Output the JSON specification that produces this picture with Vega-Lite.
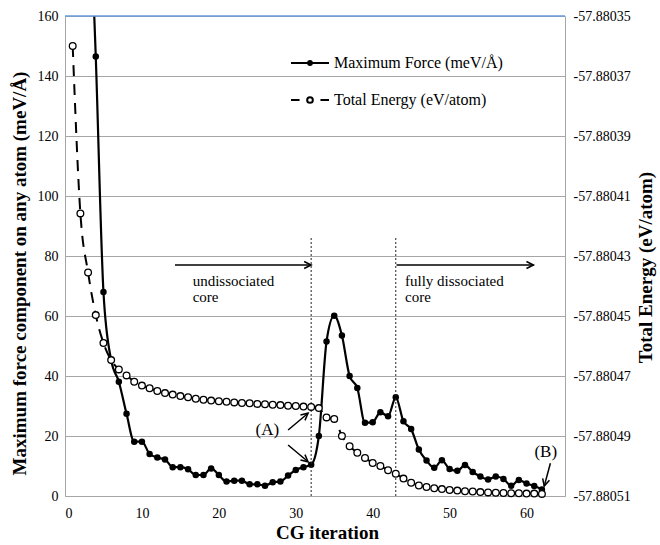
{
  "$schema": "https://vega.github.io/schema/vega-lite/v6.json",
  "width": 500,
  "height": 480,
  "autosize": "none",
  "padding": {"left": 65, "top": 16, "right": 95, "bottom": 49},
  "background": "white",
  "config": {
    "view": {"stroke": null},
    "font": "Liberation Serif",
    "axis": {
      "labelFont": "Liberation Serif", "labelFontSize": 14, "labelColor": "black",
      "titleFont": "Liberation Serif", "titleFontSize": 19, "titleFontWeight": "bold", "titleColor": "black",
      "domainColor": "#a6a6a6", "domainWidth": 1, "ticks": false, "tickSize": 0
    }
  },
  "datasets": {
    "force": [
      {"iter": 3, "maxForce": 215}, {"iter": 4, "maxForce": 146.5}, {"iter": 5, "maxForce": 68}, {"iter": 6, "maxForce": 45.3},
      {"iter": 7, "maxForce": 38.1}, {"iter": 8, "maxForce": 27.4}, {"iter": 9, "maxForce": 18.1}, {"iter": 10, "maxForce": 18.1},
      {"iter": 11, "maxForce": 14}, {"iter": 12, "maxForce": 12.8}, {"iter": 13, "maxForce": 12.2}, {"iter": 14, "maxForce": 9.6},
      {"iter": 15, "maxForce": 9.6}, {"iter": 16, "maxForce": 8.9}, {"iter": 17, "maxForce": 7}, {"iter": 18, "maxForce": 7},
      {"iter": 19, "maxForce": 9.2}, {"iter": 20, "maxForce": 7}, {"iter": 21, "maxForce": 4.8}, {"iter": 22, "maxForce": 5.1},
      {"iter": 23, "maxForce": 5.1}, {"iter": 24, "maxForce": 3.9}, {"iter": 25, "maxForce": 3.9}, {"iter": 26, "maxForce": 3.4},
      {"iter": 27, "maxForce": 4.6}, {"iter": 28, "maxForce": 4.8}, {"iter": 29, "maxForce": 6.8}, {"iter": 30, "maxForce": 8.7},
      {"iter": 31, "maxForce": 9.6}, {"iter": 32, "maxForce": 10.4}, {"iter": 33, "maxForce": 20}, {"iter": 34, "maxForce": 51.5},
      {"iter": 35, "maxForce": 60.1}, {"iter": 36, "maxForce": 53.5}, {"iter": 37, "maxForce": 40}, {"iter": 38, "maxForce": 36},
      {"iter": 39, "maxForce": 24.4}, {"iter": 40, "maxForce": 24.6}, {"iter": 41, "maxForce": 27.9}, {"iter": 42, "maxForce": 26.6},
      {"iter": 43, "maxForce": 32.9}, {"iter": 44, "maxForce": 24.9}, {"iter": 45, "maxForce": 22.3}, {"iter": 46, "maxForce": 15.5},
      {"iter": 47, "maxForce": 11.8}, {"iter": 48, "maxForce": 9.4}, {"iter": 49, "maxForce": 11.9}, {"iter": 50, "maxForce": 9},
      {"iter": 51, "maxForce": 8.4}, {"iter": 52, "maxForce": 10.3}, {"iter": 53, "maxForce": 8}, {"iter": 54, "maxForce": 6.5},
      {"iter": 55, "maxForce": 5.5}, {"iter": 56, "maxForce": 6.5}, {"iter": 57, "maxForce": 5.7}, {"iter": 58, "maxForce": 3.4},
      {"iter": 59, "maxForce": 5.3}, {"iter": 60, "maxForce": 4.2}, {"iter": 61, "maxForce": 3.3}, {"iter": 62, "maxForce": 2.2}
    ],
    "energy": [
      {"iter": 1, "totalEnergy": -57.88036}, {"iter": 2, "totalEnergy": -57.8804158}, {"iter": 3, "totalEnergy": -57.8804355},
      {"iter": 4, "totalEnergy": -57.8804497}, {"iter": 5, "totalEnergy": -57.880459}, {"iter": 6, "totalEnergy": -57.8804647},
      {"iter": 7, "totalEnergy": -57.8804678}, {"iter": 8, "totalEnergy": -57.8804698}, {"iter": 9, "totalEnergy": -57.8804719},
      {"iter": 10, "totalEnergy": -57.8804732}, {"iter": 11, "totalEnergy": -57.8804741}, {"iter": 12, "totalEnergy": -57.880475},
      {"iter": 13, "totalEnergy": -57.8804757}, {"iter": 14, "totalEnergy": -57.8804762}, {"iter": 15, "totalEnergy": -57.8804767},
      {"iter": 16, "totalEnergy": -57.8804771}, {"iter": 17, "totalEnergy": -57.8804776}, {"iter": 18, "totalEnergy": -57.8804779},
      {"iter": 19, "totalEnergy": -57.8804782}, {"iter": 20, "totalEnergy": -57.8804784}, {"iter": 21, "totalEnergy": -57.8804786},
      {"iter": 22, "totalEnergy": -57.8804788}, {"iter": 23, "totalEnergy": -57.880479}, {"iter": 24, "totalEnergy": -57.8804791},
      {"iter": 25, "totalEnergy": -57.8804793}, {"iter": 26, "totalEnergy": -57.8804794}, {"iter": 27, "totalEnergy": -57.8804796},
      {"iter": 28, "totalEnergy": -57.8804797}, {"iter": 29, "totalEnergy": -57.8804799}, {"iter": 30, "totalEnergy": -57.88048},
      {"iter": 31, "totalEnergy": -57.8804802}, {"iter": 32, "totalEnergy": -57.8804803}, {"iter": 33, "totalEnergy": -57.8804807},
      {"iter": 34, "totalEnergy": -57.8804838}, {"iter": 35, "totalEnergy": -57.8804843}, {"iter": 36, "totalEnergy": -57.88049},
      {"iter": 37, "totalEnergy": -57.8804934}, {"iter": 38, "totalEnergy": -57.8804956}, {"iter": 39, "totalEnergy": -57.8804973},
      {"iter": 40, "totalEnergy": -57.880499}, {"iter": 41, "totalEnergy": -57.8805}, {"iter": 42, "totalEnergy": -57.8805014},
      {"iter": 43, "totalEnergy": -57.8805026}, {"iter": 44, "totalEnergy": -57.8805042}, {"iter": 45, "totalEnergy": -57.8805056},
      {"iter": 46, "totalEnergy": -57.8805065}, {"iter": 47, "totalEnergy": -57.880507}, {"iter": 48, "totalEnergy": -57.8805074},
      {"iter": 49, "totalEnergy": -57.8805077}, {"iter": 50, "totalEnergy": -57.880508}, {"iter": 51, "totalEnergy": -57.8805082},
      {"iter": 52, "totalEnergy": -57.8805084}, {"iter": 53, "totalEnergy": -57.8805085}, {"iter": 54, "totalEnergy": -57.8805087},
      {"iter": 55, "totalEnergy": -57.8805088}, {"iter": 56, "totalEnergy": -57.8805089}, {"iter": 57, "totalEnergy": -57.880509},
      {"iter": 58, "totalEnergy": -57.8805091}, {"iter": 59, "totalEnergy": -57.8805091}, {"iter": 60, "totalEnergy": -57.8805092},
      {"iter": 61, "totalEnergy": -57.8805092}, {"iter": 62, "totalEnergy": -57.8805093}
    ],
    "vlines": [{"iter": 32, "lo": 0, "hi": 86}, {"iter": 43, "lo": 0, "hi": 86}],
    "hArrows": [{"x": 14.3, "x2": 32, "y": 77}, {"x": 43.1, "x2": 60.9, "y": 77}],
    "diagArrows": [
      {"name": "A1", "x": 29, "y": 22, "x2": 31.6, "y2": 27.6},
      {"name": "A2", "x": 29, "y": 17, "x2": 31.6, "y2": 11.4},
      {"name": "B", "x": 63.1, "y": 10.9, "x2": 62.3, "y2": 3.3}
    ],
    "notes": [
      {"x": 16.6, "y": 70, "text": "undissociated\ncore"},
      {"x": 44.2, "y": 70, "text": "fully dissociated\ncore"}
    ],
    "tags": [
      {"x": 26.3, "y": 22, "text": "(A)"},
      {"x": 62.5, "y": 14.8, "text": "(B)"}
    ],
    "frame": [{"top": 160}]
  },
  "layer": [
    {
      "layer": [
        {
          "data": {"name": "force"},
          "mark": {"type": "line", "color": "black", "strokeWidth": 2.2, "interpolate": "monotone", "clip": true},
          "encoding": {
            "x": {
              "field": "iter", "type": "quantitative",
              "scale": {"domain": [0, 65], "nice": false, "zero": false},
              "axis": {
                "title": "CG iteration", "values": [0, 10, 20, 30, 40, 50, 60], "grid": false,
                "labelPadding": 10, "titleX": 262, "titleY": 36, "titleAlign": "center", "titleBaseline": "middle"
              }
            },
            "y": {
              "field": "maxForce", "type": "quantitative",
              "scale": {"domain": [0, 160], "nice": false},
              "axis": {
                "title": "Maximum force component on any atom (meV/Å)",
                "values": [0, 20, 40, 60, 80, 100, 120, 140, 160],
                "grid": true, "gridColor": "#a6a6a6", "gridWidth": 1,
                "labelPadding": 7,
                "titleX": -46, "titleY": 257, "titleAngle": -90, "titleAlign": "center", "titleBaseline": "middle"
              }
            }
          }
        },
        {
          "data": {"name": "force"},
          "mark": {"type": "point", "filled": true, "color": "black", "size": 42, "opacity": 1, "clip": true},
          "encoding": {
            "x": {"field": "iter", "type": "quantitative", "scale": {"domain": [0, 65], "nice": false}},
            "y": {"field": "maxForce", "type": "quantitative", "scale": {"domain": [0, 160], "nice": false}}
          }
        },
        {
          "data": {"name": "force"},
          "transform": [{"filter": "datum.iter === 10"}],
          "mark": {"type": "point", "filled": false, "color": "black", "opacity": 0},
          "encoding": {
            "x": {"field": "iter", "type": "quantitative", "scale": {"domain": [0, 65], "nice": false}},
            "y": {"field": "maxForce", "type": "quantitative", "scale": {"domain": [0, 160], "nice": false}},
            "shape": {
              "datum": "Maximum Force (meV/Å)", "type": "nominal",
              "scale": {
                "domain": ["Maximum Force (meV/Å)", "Total Energy (eV/atom)"],
                "range": [
                  "M-1,0L1,0M-0.1,0A0.1,0.1,0,1,0,0.1,0A0.1,0.1,0,1,0,-0.1,0M-0.04,0A0.04,0.04,0,1,0,0.04,0A0.04,0.04,0,1,0,-0.04,0",
                  "M-1,0L-0.55,0M0.55,0L1,0M-0.15,0A0.15,0.15,0,1,0,0.15,0A0.15,0.15,0,1,0,-0.15,0"
                ]
              },
              "legend": {
                "orient": "none", "legendX": 225, "legendY": 27, "title": null, "padding": 0,
                "labelFont": "Liberation Serif", "labelFontSize": 16, "labelColor": "black", "labelOffset": 4, "labelLimit": 400,
                "symbolSize": 1444, "rowPadding": 9, "symbolStrokeWidth": 2, "symbolStrokeColor": "black",
                "symbolFillColor": "transparent", "symbolOpacity": 1
              }
            }
          }
        },
        {
          "data": {"name": "force"},
          "transform": [{"filter": "datum.iter === 10"}],
          "mark": {"type": "point", "filled": false, "color": "black", "opacity": 0},
          "encoding": {
            "x": {"field": "iter", "type": "quantitative", "scale": {"domain": [0, 65], "nice": false}},
            "y": {"field": "maxForce", "type": "quantitative", "scale": {"domain": [0, 160], "nice": false}},
            "shape": {"datum": "Total Energy (eV/atom)", "type": "nominal"}
          }
        },
        {
          "data": {"name": "vlines"},
          "mark": {"type": "rule", "color": "#222", "strokeWidth": 1, "strokeDash": [2, 2]},
          "encoding": {
            "x": {"field": "iter", "type": "quantitative", "scale": {"domain": [0, 65], "nice": false}},
            "y": {"field": "lo", "type": "quantitative", "scale": {"domain": [0, 160], "nice": false}},
            "y2": {"field": "hi"}
          }
        },
        {
          "data": {"name": "hArrows"},
          "mark": {"type": "rule", "color": "black", "strokeWidth": 1.5},
          "encoding": {
            "x": {"field": "x", "type": "quantitative", "scale": {"domain": [0, 65], "nice": false}},
            "x2": {"field": "x2"},
            "y": {"field": "y", "type": "quantitative", "scale": {"domain": [0, 160], "nice": false}}
          }
        },
        {
          "data": {"name": "hArrows"},
          "mark": {"type": "point", "shape": "M-1,-0.5L0,0L-1,0.5", "size": 196, "filled": false, "stroke": "black", "strokeWidth": 1.5, "opacity": 1, "angle": 0},
          "encoding": {
            "x": {"field": "x2", "type": "quantitative", "scale": {"domain": [0, 65], "nice": false}},
            "y": {"field": "y", "type": "quantitative", "scale": {"domain": [0, 160], "nice": false}}
          }
        },
        {
          "data": {"name": "diagArrows"},
          "mark": {"type": "rule", "color": "black", "strokeWidth": 1.5},
          "encoding": {
            "x": {"field": "x", "type": "quantitative", "scale": {"domain": [0, 65], "nice": false}},
            "x2": {"field": "x2"},
            "y": {"field": "y", "type": "quantitative", "scale": {"domain": [0, 160], "nice": false}},
            "y2": {"field": "y2"}
          }
        },
        {
          "data": {"name": "diagArrows"},
          "transform": [{"filter": "datum.name === 'A1'"}],
          "mark": {"type": "point", "shape": "M-1,-0.5L0,0L-1,0.5", "size": 196, "filled": false, "stroke": "black", "strokeWidth": 1.5, "opacity": 1, "angle": -40},
          "encoding": {
            "x": {"field": "x2", "type": "quantitative", "scale": {"domain": [0, 65], "nice": false}},
            "y": {"field": "y2", "type": "quantitative", "scale": {"domain": [0, 160], "nice": false}}
          }
        },
        {
          "data": {"name": "diagArrows"},
          "transform": [{"filter": "datum.name === 'A2'"}],
          "mark": {"type": "point", "shape": "M-1,-0.5L0,0L-1,0.5", "size": 196, "filled": false, "stroke": "black", "strokeWidth": 1.5, "opacity": 1, "angle": 40},
          "encoding": {
            "x": {"field": "x2", "type": "quantitative", "scale": {"domain": [0, 65], "nice": false}},
            "y": {"field": "y2", "type": "quantitative", "scale": {"domain": [0, 160], "nice": false}}
          }
        },
        {
          "data": {"name": "diagArrows"},
          "transform": [{"filter": "datum.name === 'B'"}],
          "mark": {"type": "point", "shape": "M-1,-0.5L0,0L-1,0.5", "size": 196, "filled": false, "stroke": "black", "strokeWidth": 1.5, "opacity": 1, "angle": 105},
          "encoding": {
            "x": {"field": "x2", "type": "quantitative", "scale": {"domain": [0, 65], "nice": false}},
            "y": {"field": "y2", "type": "quantitative", "scale": {"domain": [0, 160], "nice": false}}
          }
        },
        {
          "data": {"name": "notes"},
          "mark": {"type": "text", "align": "left", "baseline": "alphabetic", "font": "Liberation Serif", "fontSize": 15, "lineBreak": "\n", "lineHeight": 16, "color": "black"},
          "encoding": {
            "x": {"field": "x", "type": "quantitative", "scale": {"domain": [0, 65], "nice": false}},
            "y": {"field": "y", "type": "quantitative", "scale": {"domain": [0, 160], "nice": false}},
            "text": {"field": "text"}
          }
        },
        {
          "data": {"name": "tags"},
          "mark": {"type": "text", "align": "center", "baseline": "middle", "font": "Liberation Serif", "fontSize": 17, "color": "black"},
          "encoding": {
            "x": {"field": "x", "type": "quantitative", "scale": {"domain": [0, 65], "nice": false}},
            "y": {"field": "y", "type": "quantitative", "scale": {"domain": [0, 160], "nice": false}},
            "text": {"field": "text"}
          }
        },
        {
          "data": {"name": "frame"},
          "mark": {"type": "rule", "color": "#6a9ad8", "strokeWidth": 1.5},
          "encoding": {
            "y": {"field": "top", "type": "quantitative", "scale": {"domain": [0, 160], "nice": false}}
          }
        }
      ]
    },
    {
      "layer": [
        {
          "data": {"name": "energy"},
          "mark": {"type": "line", "color": "black", "strokeWidth": 2, "strokeDash": [11, 8], "interpolate": "monotone"},
          "encoding": {
            "x": {"field": "iter", "type": "quantitative", "scale": {"domain": [0, 65], "nice": false}},
            "y": {
              "field": "totalEnergy", "type": "quantitative",
              "scale": {"domain": [-57.88051, -57.88035], "nice": false, "zero": false},
              "axis": {
                "orient": "right", "title": "Total Energy (eV/atom)",
                "values": [-57.88051, -57.88049, -57.88047, -57.88045, -57.88043, -57.88041, -57.88039, -57.88037, -57.88035],
                "labelExpr": "'-' + format(abs(datum.value), '.5f')",
                "grid": false, "labelPadding": 8,
                "titleX": 80, "titleY": 251, "titleAngle": -90, "titleAlign": "center", "titleBaseline": "middle"
              }
            }
          }
        },
        {
          "data": {"name": "energy"},
          "mark": {"type": "point", "filled": true, "fill": "white", "stroke": "black", "strokeWidth": 1.3, "size": 45, "opacity": 1},
          "encoding": {
            "x": {"field": "iter", "type": "quantitative", "scale": {"domain": [0, 65], "nice": false}},
            "y": {"field": "totalEnergy", "type": "quantitative", "scale": {"domain": [-57.88051, -57.88035], "nice": false, "zero": false}}
          }
        }
      ]
    }
  ],
  "resolve": {"scale": {"y": "independent"}, "axis": {"y": "independent"}}
}
